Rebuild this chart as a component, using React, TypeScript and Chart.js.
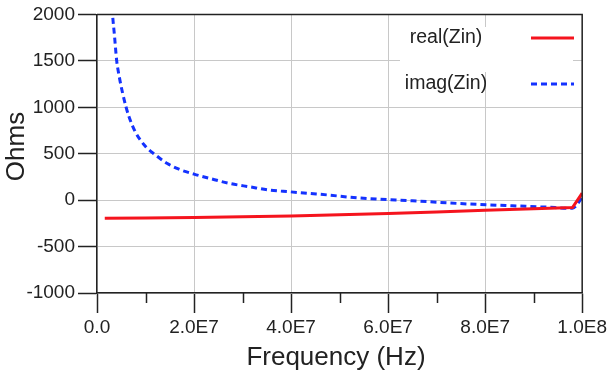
import React, { useEffect, useRef } from "react";
import { Chart, registerables } from "chart.js";

Chart.register(...registerables);

// ---- data ----
const realFreqHz = [1.6e6, 1.0e7, 2.0e7, 3.0e7, 4.0e7, 5.0e7, 6.0e7, 7.0e7, 8.0e7, 9.0e7, 9.8e7, 1.0e8];
const realOhms = [-194, -192, -186, -178, -170, -158, -143, -128, -110, -94, -80, 75];

const imagFreqHz = [
  1.6e6, 2.4e6, 3.2e6, 3.6e6, 4.05e6, 4.6e6, 5.3e6, 6.0e6, 6.65e6, 8.0e6, 10.1e6, 12.1e6,
  14.5e6, 16.9e6, 20.0e6, 23.3e6, 27.4e6, 31.5e6, 35.6e6, 39.7e6, 43.8e6, 47.9e6, 52.0e6,
  57.5e6, 65.0e6, 72.0e6, 78.8e6, 85.6e6, 92.5e6, 98.0e6, 1.0e8,
];
const imagOhms = [
  3900, 2650, 2000, 1774, 1505, 1326, 1147, 1000, 890, 725, 573, 484,
  394, 333, 280, 233, 179, 143, 108, 90, 72, 54, 32,
  12, -7, -29, -47, -61, -75, -88, 30,
];

const seriesLabels = ["real(Zin)", "imag(Zin)"];
const xTitle = "Frequency (Hz) ";
const yTitle = "  Ohms";

const xTickValues = [0, 2e7, 4e7, 6e7, 8e7, 1e8];
const xTickLabels = ["0.0", "2.0E7", "4.0E7", "6.0E7", "8.0E7", "1.0E8"];
const xMinorTickValues = [1e7, 3e7, 5e7, 7e7, 9e7];
const yTickValues = [-1000, -500, 0, 500, 1000, 1500, 2000];
const yTickLabels = ["-1000", "-500", "0", "500", "1000", "1500", "2000"];

const FONT = "'Liberation Sans', Arial, sans-serif";
const TEXT = "#222222";
const FRAME = "#222222";
const GRID = "#c8c8c8";
const RED = "#f5141e";
const BLUE = "#1432ff";

const framePlugin = {
  id: "frameAndLegend",
  afterDraw(chart: any) {
    const { ctx, chartArea } = chart;
    const { left, right, top, bottom } = chartArea;
    const xs = chart.scales.x;
    ctx.save();
    ctx.strokeStyle = FRAME;
    ctx.lineWidth = 1.5;
    ctx.beginPath();
    ctx.moveTo(left, top);
    ctx.lineTo(right, top);
    ctx.lineTo(right, bottom);
    ctx.stroke();
    // minor ticks on x axis
    ctx.beginPath();
    xMinorTickValues.forEach((v) => {
      const px = Math.round(xs.getPixelForValue(v)) + 0.5;
      ctx.moveTo(px, bottom);
      ctx.lineTo(px, bottom + 10);
    });
    ctx.stroke();

    // legend
    ctx.fillStyle = "#ffffff";
    ctx.fillRect(400, 27, 173, 45);
    const rows = [38, 84];
    chart.data.datasets.forEach((ds: any, i: number) => {
      const y = rows[i];
      ctx.fillStyle = TEXT;
      ctx.font = `19.5px ${FONT}`;
      ctx.textAlign = "center";
      ctx.textBaseline = "middle";
      ctx.fillText(ds.label, 446, y);
      ctx.strokeStyle = ds.borderColor;
      ctx.lineWidth = 3;
      ctx.setLineDash(ds.borderDash || []);
      ctx.beginPath();
      ctx.moveTo(531, y);
      ctx.lineTo(574, y);
      ctx.stroke();
      ctx.setLineDash([]);
    });
    ctx.restore();
  },
};

export default function App() {
  const ref = useRef<HTMLCanvasElement | null>(null);

  useEffect(() => {
    if (!ref.current) return;
    const chart = new Chart(ref.current, {
      type: "line",
      data: {
        datasets: [
          {
            label: seriesLabels[0],
            data: realFreqHz.map((f, i) => ({ x: f, y: realOhms[i] })),
            borderColor: RED,
            borderWidth: 3,
            pointRadius: 0,
            tension: 0,
            fill: false,
          },
          {
            label: seriesLabels[1],
            data: imagFreqHz.map((f, i) => ({ x: f, y: imagOhms[i] })),
            borderColor: BLUE,
            borderWidth: 3,
            borderDash: [6, 4],
            pointRadius: 0,
            cubicInterpolationMode: "monotone",
            fill: false,
          },
        ],
      },
      options: {
        responsive: false,
        animation: false,
        events: [],
        layout: { padding: { top: 14, right: 27, bottom: 0, left: 0 } },
        plugins: {
          legend: { display: false },
          tooltip: { enabled: false },
        },
        scales: {
          x: {
            type: "linear",
            min: 0,
            max: 1e8,
            afterFit: (s: any) => {
              s.height = 82;
            },
            afterBuildTicks: (s: any) => {
              s.ticks = xTickValues.map((v) => ({ value: v }));
            },
            ticks: {
              autoSkip: false,
              maxRotation: 0,
              padding: 3,
              color: TEXT,
              font: { family: FONT, size: 19 },
              callback: (v: any) => {
                const i = xTickValues.indexOf(Number(v));
                return i >= 0 ? xTickLabels[i] : "";
              },
            },
            grid: {
              color: GRID,
              lineWidth: 1,
              tickColor: FRAME,
              tickWidth: 1.5,
              tickLength: 20,
            },
            border: { display: true, color: FRAME, width: 1.5 },
            title: {
              display: true,
              text: xTitle,
              color: TEXT,
              font: { family: FONT, size: 26 },
              padding: { top: 0, bottom: 2 },
            },
          },
          y: {
            type: "linear",
            min: -1000,
            max: 2000,
            afterFit: (s: any) => {
              s.width = 97;
            },
            afterBuildTicks: (s: any) => {
              s.ticks = yTickValues.map((v) => ({ value: v }));
            },
            ticks: {
              autoSkip: false,
              padding: 3,
              color: TEXT,
              font: { family: FONT, size: 19 },
              callback: (v: any) => {
                const i = yTickValues.indexOf(Number(v));
                return i >= 0 ? yTickLabels[i] : "";
              },
            },
            grid: {
              color: GRID,
              lineWidth: 1,
              tickColor: FRAME,
              tickWidth: 1.5,
              tickLength: 19,
            },
            border: { display: true, color: FRAME, width: 1.5 },
            title: {
              display: true,
              text: yTitle,
              color: TEXT,
              font: { family: FONT, size: 26 },
              padding: { top: 1, bottom: 0 },
            },
          },
        },
      },
      plugins: [framePlugin],
    } as any);
    return () => chart.destroy();
  }, []);

  return (
    <div style={{ position: "absolute", left: 0, top: 0, width: 610, height: 375, background: "#fff" }}>
      <canvas ref={ref} width={610} height={375} style={{ display: "block" }} />
    </div>
  );
}
